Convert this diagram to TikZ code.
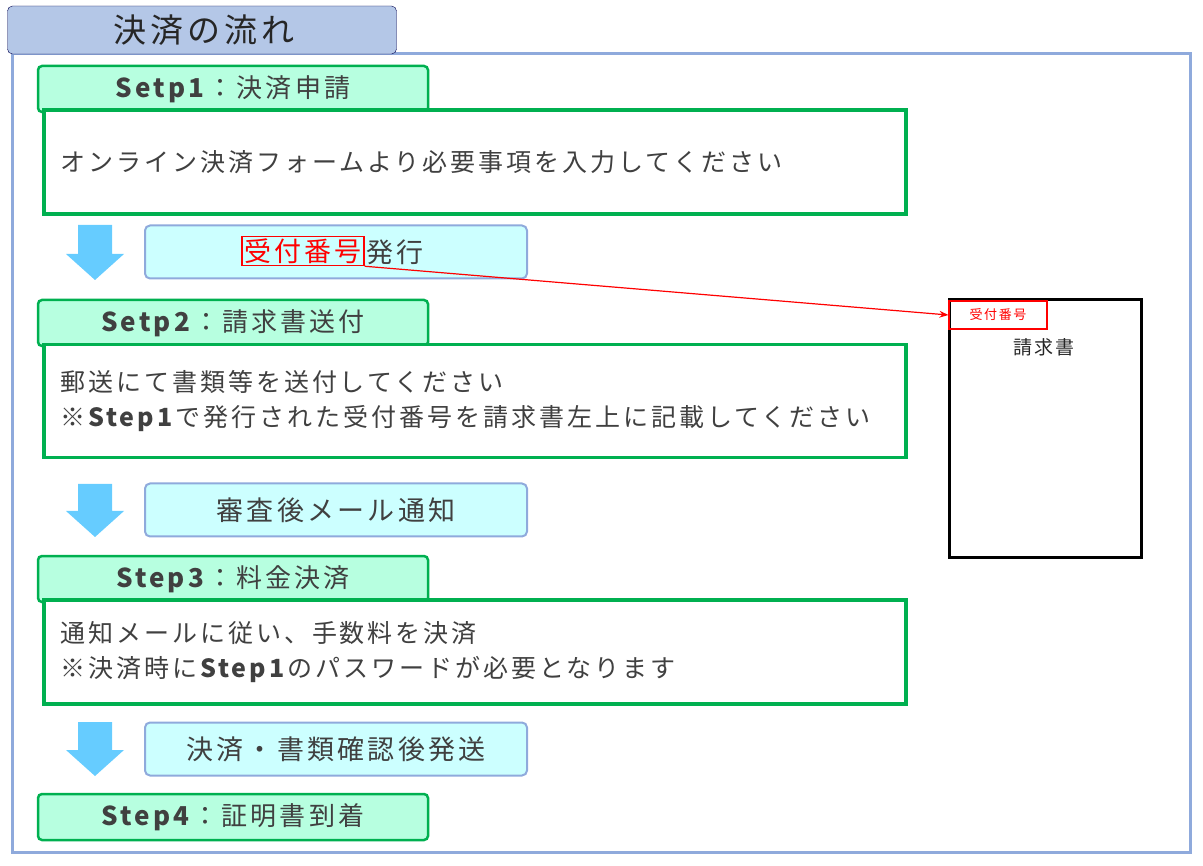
\documentclass[tikz,border=0pt]{standalone}
\usepackage{fontspec}
\setmainfont{Noto Sans CJK JP}[LetterSpace=12]
\usetikzlibrary{positioning, arrows.meta}
\definecolor{frameblue}{HTML}{8FAADC}
\definecolor{titlefill}{HTML}{B4C7E7}
\definecolor{stepgreen}{HTML}{00B050}
\definecolor{stepfill}{HTML}{B7FFE0}
\definecolor{notefill}{HTML}{CCFFFF}
\definecolor{arrowblue}{HTML}{66CCFF}
\definecolor{txt}{HTML}{404040}
\tikzset{
  stephead/.style={draw=stepgreen, line width=2.5pt, fill=stepfill, rounded corners=4pt,
    minimum width=390pt, minimum height=46pt, text=txt, font=\fontsize{26}{28}\selectfont},
  stepbody/.style={draw=stepgreen, line width=3.5pt, fill=white,
    minimum width=862pt, text width=830pt, align=left, text=txt,
    font=\fontsize{25}{35}\selectfont},
  notebox/.style={draw=frameblue, line width=2pt, fill=notefill, rounded corners=5pt,
    minimum width=382pt, minimum height=53pt, text=txt, font=\fontsize{27}{30}\selectfont},
}
\newcommand{\downarr}[2]{%
  \fill[arrowblue] (78,#1) -- (112,#1) -- (112,#2-26) -- (124,#2-26) -- (95,#2) -- (66,#2-26) -- (78,#2-26) -- cycle;}
\begin{document}
\begin{tikzpicture}[x=1pt, y=-1pt]
	\useasboundingbox (0,0) rectangle (1203,866);
	% outer frame and title
	\draw[frameblue, line width=3pt] (12,54) rectangle (1190,852);
	\node[draw=black!70!blue, fill=titlefill, rounded corners=5pt, minimum width=389pt,
	  minimum height=48pt] (title) at (202,30) {};
	\node[font=\fontsize{33}{36}\selectfont, text=black!85] (titletext) at (204,30) {決済の流れ};

	% step 1
	\node[stephead] (s1) at (233,89) {\textbf{Setp1}：決済申請};
	\node[stepbody, minimum height=104pt] (b1) at (475,162) {オンライン決済フォームより必要事項を入力してください};
	\downarr{225}{280}
	\node[notebox] (n1) at (336,252) {\phantom{受付番号}発行};
	\node[draw=red, line width=1.5pt, inner sep=2pt, text=red,
	  font=\fontsize{27}{30}\selectfont] (rn) at (303,251) {受付番号};

	% step 2
	\node[stephead] (s2) at (233,323) {\textbf{Setp2}：請求書送付};
	\node[stepbody, minimum height=113pt] (b2) at (475,401) {郵送にて書類等を送付してください\\※\textbf{Step1}で発行された受付番号を請求書左上に記載してください};
	\downarr{484}{537}
	\node[notebox] (n2) at (336,510) {審査後メール通知};

	% step 3
	\node[stephead] (s3) at (233,579) {\textbf{Step3}：料金決済};
	\node[stepbody, minimum height=104pt] (b3) at (475,652) {通知メールに従い、手数料を決済\\※決済時に\textbf{Step1}のパスワードが必要となります};
	\downarr{722}{776}
	\node[notebox] (n3) at (336,749) {決済・書類確認後発送};

	% step 4
	\node[stephead] (s4) at (233,817) {\textbf{Step4}：証明書到着};

	% invoice sheet
	\draw[black, line width=3pt] (949,300) rectangle (1141,557);
	\node[draw=red, line width=1.2pt, text=red, minimum width=98pt, minimum height=28pt,
	  font=\fontsize{13}{15}\selectfont] (rs) at (998,315) {受付番号};
	\node[font=\fontsize{19}{22}\selectfont, text=black!85] (inv) at (1044,347) {請求書};
	\draw[red, line width=1.2pt, -{Stealth[length=9pt]}] (rn.south east) -- (rs.west);
\end{tikzpicture}
\end{document}
